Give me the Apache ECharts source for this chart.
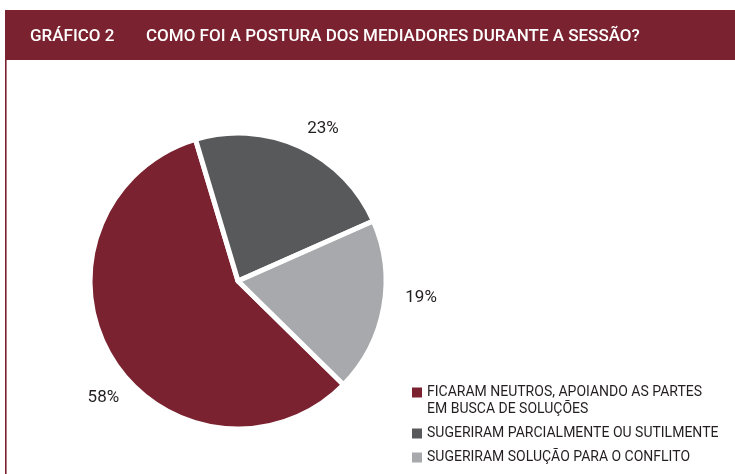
<!DOCTYPE html>
<html>
<head>
<meta charset="utf-8">
<style>
html,body{margin:0;padding:0;background:#fff;}
#c{width:735px;height:474px;}
</style>
<script src="https://cdn.jsdelivr.net/npm/echarts@6/dist/echarts.min.js"></script>
</head>
<body>
<div id="c"></div>
<script>
const chartNumber = 'GRÁFICO 2';
const chartTitle = 'COMO FOI A POSTURA DOS MEDIADORES DURANTE A SESSÃO?';
const categories = [
  'FICARAM NEUTROS, APOIANDO AS PARTES\nEM BUSCA DE SOLUÇÕES',
  'SUGERIRAM PARCIALMENTE OU SUTILMENTE',
  'SUGERIRAM SOLUÇÃO PARA O CONFLITO'
];
const values = [58, 23, 19];
const colors = ['#7a222f', '#58595b', '#a7a9ac'];

const FONT = 'Roboto, "Noto Sans", sans-serif';
// small label nudges (px) to place percentage labels like the reference
const labelNudge = [[30, 30], [-6, 0], [-3, -13]];

const chart = echarts.init(document.getElementById('c'), null, {renderer: 'canvas'});

chart.setOption({
  animation: false,
  backgroundColor: '#ffffff',
  graphic: [
    {type: 'rect', shape: {x: 5, y: 10, width: 730, height: 50}, style: {fill: '#7a222f'}, z: 0},
    {type: 'rect', shape: {x: 5, y: 60, width: 1.6, height: 414}, style: {fill: '#7a222f'}, z: 0}
  ],
  title: [
    {text: chartNumber, left: 30, top: 28, padding: 0,
     textStyle: {color: '#ffffff', fontFamily: FONT, fontSize: 17, fontWeight: 500}},
    {text: chartTitle, left: 146, top: 28, padding: 0,
     textStyle: {color: '#ffffff', fontFamily: FONT, fontSize: 17, fontWeight: 500}}
  ],
  color: colors,
  legend: {
    orient: 'vertical',
    left: 412,
    top: 367,
    padding: 0,
    itemWidth: 10,
    itemHeight: 10,
    itemGap: 7,
    icon: 'rect',
    selectedMode: false,
    itemStyle: {borderWidth: 0},
    formatter: name => (name === categories[0] ? '\n' + name : name),
    textStyle: {color: '#231f20', fontFamily: FONT, fontSize: 14, lineHeight: 17},
    data: categories
  },
  series: [{
    type: 'pie',
    center: [238, 281],
    radius: [0, 148],
    startAngle: -44.5,
    clockwise: true,
    itemStyle: {borderColor: '#ffffff', borderWidth: 5},
    label: {
      show: true,
      position: 'outside',
      formatter: p => p.value + '%',
      color: '#231f20',
      fontFamily: FONT,
      fontSize: 17
    },
    labelLine: {show: false, length: 20, length2: 0},
    labelLayout: p => ({dx: labelNudge[p.dataIndex][0], dy: labelNudge[p.dataIndex][1]}),
    emphasis: {disabled: true},
    data: categories.map((n, i) => ({name: n, value: values[i]}))
  }]
});
</script>
</body>
</html>
